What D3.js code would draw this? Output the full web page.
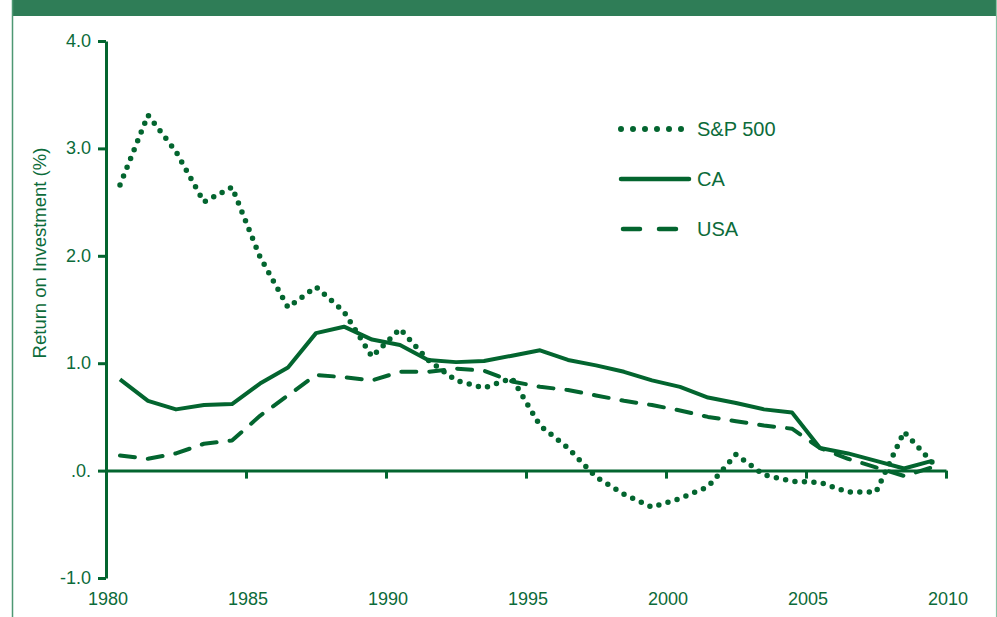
<!DOCTYPE html>
<html lang="en">
	<head>
		<meta charset="utf-8">
		<title>Return on Investment</title>
		<script type="text/javascript" src="https://cdn.jsdelivr.net/npm/d3@7"></script>
		<style type="text/css">
		body { margin: 0; background: #fff; }
		svg text { font-family: "Liberation Sans", Arial, sans-serif; fill: #0c6b3a; }
		.line { fill: none; stroke: #03652f; }
		</style>
	</head>
	<body>
		<script type="text/javascript">

		//Width and height
		var w = 997;
		var h = 617;

		//Data (values sit at mid-year)
		var years = [1980, 1981, 1982, 1983, 1984, 1985, 1986, 1987, 1988, 1989,
					 1990, 1991, 1992, 1993, 1994, 1995, 1996, 1997, 1998, 1999,
					 2000, 2001, 2002, 2003, 2004, 2005, 2006, 2007, 2008, 2009];

		var sp500 = [2.66, 3.31, 2.97, 2.50, 2.64, 1.99, 1.52, 1.71, 1.48, 1.06,
					 1.32, 1.03, 0.84, 0.77, 0.86, 0.42, 0.21, -0.06, -0.22, -0.34,
					 -0.26, -0.15, 0.15, -0.04, -0.10, -0.11, -0.20, -0.20, 0.36, 0.08];

		var ca = [0.85, 0.65, 0.57, 0.61, 0.62, 0.81, 0.96, 1.28, 1.34, 1.22,
				  1.17, 1.03, 1.01, 1.02, 1.07, 1.12, 1.03, 0.98, 0.92, 0.84,
				  0.78, 0.68, 0.63, 0.57, 0.54, 0.21, 0.16, 0.09, 0.02, 0.09];

		var usa = [0.14, 0.11, 0.16, 0.25, 0.28, 0.51, 0.70, 0.89, 0.87, 0.84,
				   0.92, 0.92, 0.95, 0.93, 0.83, 0.78, 0.75, 0.70, 0.65, 0.61,
				   0.56, 0.50, 0.46, 0.42, 0.39, 0.21, 0.11, 0.03, -0.05, 0.03];

		var xTicks = [1980, 1985, 1990, 1995, 2000, 2005, 2010];
		var yTicks = [-1, 0, 1, 2, 3, 4];
		var yTickLabels = ["-1.0", ".0.", "1.0", "2.0", "3.0", "4.0"];

		var seriesNames = ["S&P 500", "CA", "USA"];
		var seriesValues = [sp500, ca, usa];
		var seriesDash = ["0 9.5", null, "15 13"];
		var legendDash = ["0 12", null, "17 19"];

		var green = "#03652f";

		//Create SVG element
		var svg = d3.select("body")
					.append("svg")
					.attr("width", w)
					.attr("height", h);

		//Frame: banner and side borders
		svg.append("rect")
			.attr("x", 12).attr("y", 0)
			.attr("width", w - 12).attr("height", 16)
			.attr("fill", "#2f7d57");

		svg.append("line")
			.attr("x1", 12.5).attr("x2", 12.5)
			.attr("y1", 0).attr("y2", h)
			.attr("stroke", "#4e9873").attr("stroke-width", 1.5);

		svg.append("line")
			.attr("x1", 996.5).attr("x2", 996.5)
			.attr("y1", 0).attr("y2", h)
			.attr("stroke", "#8cc2a6").attr("stroke-width", 1.2);

		//Scales
		var xScale = d3.scaleLinear()
						.domain([1980, 2010])
						.range([106, 946]);

		var yScale = d3.scaleLinear()
						.domain([-1, 4])
						.range([578, 41]);

		//Axes
		var xAxis = d3.axisBottom(xScale)
						.tickValues(xTicks)
						.tickSize(8)
						.tickSizeOuter(0)
						.tickFormat("");

		var yAxis = d3.axisLeft(yScale)
						.tickValues(yTicks)
						.tickSize(8)
						.tickSizeOuter(0)
						.tickFormat(function(d, i) { return yTickLabels[i]; });

		var gx = svg.append("g")
			.attr("transform", "translate(0," + yScale(0) + ")")
			.call(xAxis);
		gx.select(".domain").attr("stroke", green).attr("stroke-width", 3);
		gx.selectAll(".tick line").attr("stroke", green).attr("stroke-width", 3)
			.filter(function(d) { return d === 1980; }).remove();

		var gy = svg.append("g")
			.attr("transform", "translate(" + xScale(1980) + ",0)")
			.call(yAxis);
		gy.select(".domain").attr("stroke", green).attr("stroke-width", 3);
		gy.selectAll(".tick line").attr("stroke", green).attr("stroke-width", 3);
		gy.selectAll(".tick text")
			.attr("x", -15)
			.attr("dy", "0.3em")
			.style("font-size", "18px")
			.attr("fill", "#0c6b3a");

		//Year labels below the plot
		svg.selectAll(".yearLabel")
			.data(xTicks)
			.enter()
			.append("text")
			.attr("class", "yearLabel")
			.attr("x", function(d) { return xScale(d) + 2; })
			.attr("y", 605)
			.attr("text-anchor", "middle")
			.style("font-size", "18px")
			.text(function(d) { return d; });

		//Y axis title
		svg.append("text")
			.attr("transform", "translate(46,253) rotate(-90)")
			.attr("text-anchor", "middle")
			.style("font-size", "18.5px")
			.text("Return on Investment (%)");

		//Line generator
		var line = d3.line()
					.x(function(d, i) { return xScale(years[i] + 0.5); })
					.y(function(d) { return yScale(d); });

		//Draw lines
		svg.selectAll(".line")
			.data(seriesValues)
			.enter()
			.append("path")
			.attr("class", "line")
			.attr("d", line)
			.attr("stroke-width", function(d, i) { return i === 0 ? 5.5 : 4; })
			.attr("stroke-linecap", function(d, i) { return i === 1 ? "butt" : "round"; })
			.attr("stroke-linejoin", "round")
			.attr("stroke-dasharray", function(d, i) { return seriesDash[i]; });

		//Legend
		var legend = svg.selectAll(".legend")
			.data(seriesNames)
			.enter()
			.append("g")
			.attr("class", "legend")
			.attr("transform", function(d, i) { return "translate(0," + (129 + i * 50) + ")"; });

		legend.append("line")
			.attr("x1", function(d, i) { return i === 2 ? 623 : 621; })
			.attr("x2", function(d, i) { return i === 0 ? 682 : (i === 1 ? 689 : 676); })
			.attr("stroke", green)
			.attr("stroke-width", function(d, i) { return i === 0 ? 6 : 4.5; })
			.attr("stroke-linecap", function(d, i) { return i === 1 ? "round" : "round"; })
			.attr("stroke-dasharray", function(d, i) { return legendDash[i]; });

		legend.append("text")
			.attr("x", 697)
			.attr("dy", "0.36em")
			.style("font-size", "20px")
			.text(function(d) { return d; });

		</script>
	</body>
</html>
